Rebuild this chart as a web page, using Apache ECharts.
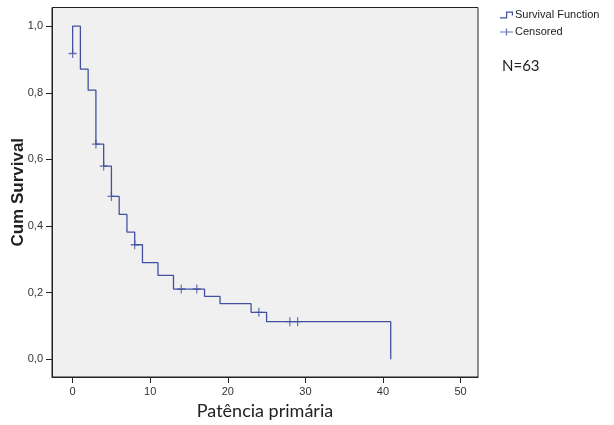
<!DOCTYPE html>
<html>
<head>
<meta charset="utf-8">
<script src="https://cdn.jsdelivr.net/npm/echarts@6/dist/echarts.min.js"></script>
<style>
  html, body { margin: 0; padding: 0; background: #fff; }
  #chart { width: 614px; height: 425px; }
</style>
</head>
<body>
<div id="chart"></div>
<script>
// DATA
// first point is the odd censored case SPSS draws at t=0
const stepTimes = [0, 0, 1, 2, 3, 4, 5, 6, 7, 8, 9, 11, 13, 17, 19, 23, 25, 41]
const survival = [0.918, 1.0, 0.871, 0.808, 0.646, 0.58, 0.489, 0.435, 0.382, 0.344, 0.29, 0.252, 0.211, 0.189, 0.167, 0.141, 0.113, 0.0]
const censorTimes = [0, 3, 4, 5, 8, 14, 16, 24, 28, 29]
const censorValues = [0.918, 0.646, 0.58, 0.489, 0.344, 0.211, 0.211, 0.141, 0.113, 0.113]
const xTicks = [0, 10, 20, 30, 40, 50]
const yTicks = [0, 0.2, 0.4, 0.6, 0.8, 1.0]
const seriesNames = ['Survival Function', 'Censored']
const sampleLabel = 'N=63'

const lineColor = '#41519f'
const axisColor = '#222'

const stepIcon = 'path://M0,5.8H6V0H13V4H11.8V1.2H7.2V7H0Z'
const plusIcon = 'path://M0,2.9H5.9V0H7.1V2.9H13V4.1H7.1V7H5.9V4.1H0Z'
const plusMark = 'path://M0,3.4H3.4V0H4.6V3.4H8V4.6H4.6V8H3.4V4.6H0Z'

const commaFmt = v => v.toFixed(1).replace('.', ',')

const chart = echarts.init(document.getElementById('chart'))

chart.setOption({
  backgroundColor: '#fff',
  animation: false,
  grid: {
    left: 52, right: 136, top: 7.5, bottom: 48,
    outerBoundsMode: 'none', containLabel: false,
    show: true, backgroundColor: '#f0f0f0',
    borderColor: axisColor, borderWidth: 1
  },
  legend: {
    orient: 'vertical', left: 500, top: 8,
    itemWidth: 13, itemHeight: 7, itemGap: 3, padding: 0,
    textStyle: { fontSize: 11, fontFamily: 'Liberation Sans', color: '#222', lineHeight: 14, padding: [0, 0, 0, -3] },
    data: [
      { name: seriesNames[0], icon: stepIcon },
      { name: seriesNames[1], icon: plusIcon }
    ]
  },
  xAxis: {
    type: 'value', min: -2.66, max: 52.25,
    name: 'Patência primária', nameLocation: 'middle', nameGap: 25, nameMoveOverlap: false,
    nameTextStyle: { fontSize: 18, fontFamily: 'Lato', color: '#222' },
    splitLine: { show: false },
    axisLine: { show: true, onZero: false, lineStyle: { color: axisColor } },
    axisTick: { show: true, length: 6, customValues: xTicks, lineStyle: { color: axisColor } },
    axisLabel: { customValues: xTicks, margin: 9, fontSize: 11, fontFamily: 'Liberation Sans', color: '#333' }
  },
  yAxis: {
    type: 'value', min: -0.053, max: 1.056,
    name: 'Cum Survival', nameLocation: 'middle', nameGap: 25, nameMoveOverlap: false,
    nameTextStyle: { fontSize: 17, fontWeight: 'bold', fontFamily: 'Liberation Sans', color: '#222' },
    splitLine: { show: false },
    axisLine: { show: true, onZero: false, lineStyle: { color: axisColor } },
    axisTick: { show: true, length: 6, customValues: yTicks, lineStyle: { color: axisColor } },
    axisLabel: { customValues: yTicks, margin: 9, fontSize: 11, fontFamily: 'Liberation Sans', color: '#333', formatter: commaFmt }
  },
  graphic: [{
    type: 'text', left: 502, top: 59,
    style: { text: sampleLabel, fontSize: 15, fontFamily: 'Lato', fill: '#222' }
  }],
  series: [
    {
      name: seriesNames[0], type: 'line', step: 'end',
      showSymbol: false, color: lineColor,
      lineStyle: { color: lineColor, width: 1.3 },
      data: stepTimes.map((t, i) => [t, survival[i]])
    },
    {
      name: seriesNames[1], type: 'scatter', z: 3,
      symbol: plusMark, symbolSize: [8, 9], color: lineColor,
      itemStyle: { color: lineColor },
      data: censorTimes.map((t, i) => [t, censorValues[i]])
    }
  ]
})
</script>
</body>
</html>
